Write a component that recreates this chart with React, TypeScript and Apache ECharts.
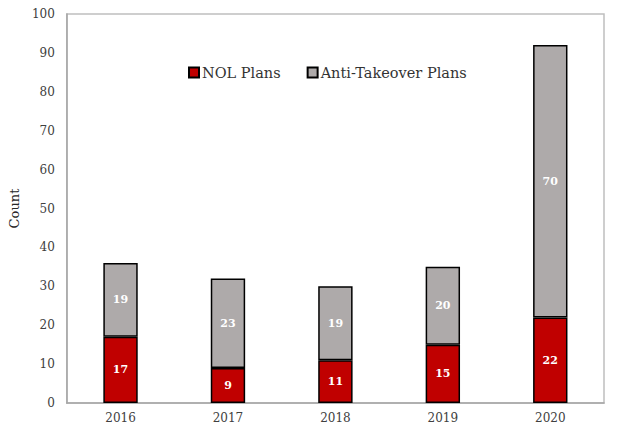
import React, { useEffect, useRef } from "react";
import * as echarts from "echarts";

const categories = ["2016", "2017", "2018", "2019", "2020"];
const nolPlans = [17, 9, 11, 15, 22];
const antiTakeoverPlans = [19, 23, 19, 20, 70];
const yTicks = [0, 10, 20, 30, 40, 50, 60, 70, 80, 90, 100];

const FONT = "'DejaVu Serif', 'Liberation Serif', serif";

export default function App() {
  const ref = useRef<HTMLDivElement>(null);
  useEffect(() => {
    if (!ref.current) return;
    const chart = echarts.init(ref.current, undefined, { renderer: "svg" });
    const labelCfg = {
      show: true,
      position: "inside" as const,
      color: "#ffffff",
      fontWeight: "bold" as const,
      fontSize: 11,
      fontFamily: FONT,
    };
    chart.setOption({
      animation: false,
      backgroundColor: "#ffffff",
      textStyle: { fontFamily: FONT },
      grid: {
        left: 58,
        right: 17,
        top: 14,
        bottom: 32,
        show: true,
        borderColor: "#bfbfbf",
        borderWidth: 1.5,
      },
      legend: {
        left: 183,
        top: 60,
        itemWidth: 10,
        itemHeight: 10,
        itemGap: 26,
        icon: "rect",
        textStyle: { fontSize: 14.5, color: "#333333", fontFamily: FONT, padding: [0, 0, 0, -2] },
        data: ["NOL Plans", "Anti-Takeover Plans"],
      },
      xAxis: {
        type: "category",
        data: categories,
        axisLine: { show: true, lineStyle: { color: "#a6a6a6", width: 1.5 } },
        axisTick: { show: false },
        axisLabel: { color: "#404040", fontSize: 12, margin: 9, fontFamily: FONT },
      },
      yAxis: {
        type: "value",
        min: yTicks[0],
        max: yTicks[yTicks.length - 1],
        interval: 10,
        name: "Count",
        nameLocation: "middle",
        nameGap: 38,
        nameRotate: 90,
        nameTextStyle: { fontSize: 13, color: "#262626", fontFamily: FONT },
        splitLine: { show: false },
        axisLine: { show: true, lineStyle: { color: "#a6a6a6", width: 1.5 } },
        axisTick: { show: false },
        axisLabel: { color: "#404040", fontSize: 12, margin: 12, fontFamily: FONT },
      },
      series: [
        {
          name: "NOL Plans",
          type: "bar",
          stack: "total",
          data: nolPlans,
          barWidth: "32%",
          itemStyle: { color: "#c00000", borderColor: "#000000", borderWidth: 1.5 },
          label: labelCfg,
        },
        {
          name: "Anti-Takeover Plans",
          type: "bar",
          stack: "total",
          data: antiTakeoverPlans,
          barWidth: "32%",
          itemStyle: { color: "#aeaaaa", borderColor: "#000000", borderWidth: 1.5 },
          label: labelCfg,
        },
      ],
    });
    return () => chart.dispose();
  }, []);
  return (
    <div
      ref={ref}
      style={{ position: "fixed", left: 0, top: 0, width: 621, height: 435 }}
    />
  );
}
